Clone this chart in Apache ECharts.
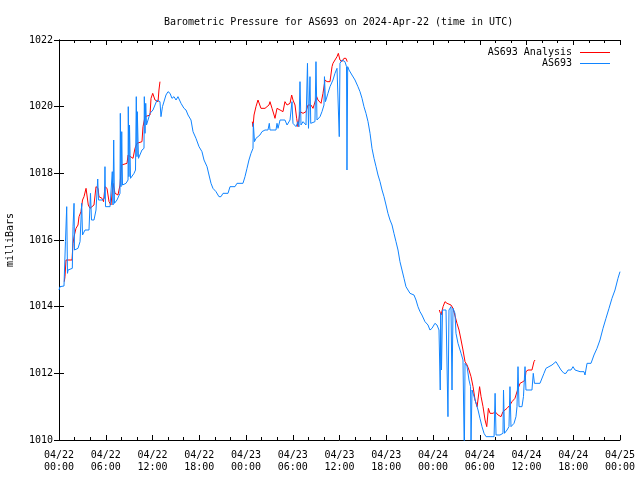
<!DOCTYPE html>
<html>
<head>
<meta charset="utf-8">
<script src="https://cdn.jsdelivr.net/npm/echarts@6/dist/echarts.min.js"></script>
<style>html,body{margin:0;padding:0;background:#fff}#c{width:640px;height:480px}</style>
</head>
<body>
<div id="c"></div>
<script>
// hours since 2024-04-22 00:00 UTC
const tickLabels = ["04/22\n00:00","04/22\n06:00","04/22\n12:00","04/22\n18:00","04/23\n00:00","04/23\n06:00","04/23\n12:00","04/23\n18:00","04/24\n00:00","04/24\n06:00","04/24\n12:00","04/24\n18:00","04/25\n00:00"];

const stationHours = [0.0,0.13,0.64,0.83,0.96,0.99,1.09,1.16,1.71,1.80,1.93,1.99,2.44,2.70,2.91,3.02,3.34,3.85,4.04,4.17,4.49,4.75,4.97,5.07,5.52,5.84,5.90,5.97,6.55,6.84,6.93,7.02,7.12,7.44,7.83,7.87,7.96,8.05,8.15,8.60,8.86,8.89,8.98,9.05,9.18,9.63,9.82,9.92,10.01,10.05,10.20,10.65,10.91,10.95,11.04,11.13,11.23,11.68,12.06,12.58,12.96,13.09,13.28,13.73,13.99,14.25,14.50,14.76,15.02,15.27,15.66,16.04,16.30,16.56,16.94,17.20,17.58,17.97,18.35,18.61,19.0,19.25,19.51,19.76,20.15,20.53,20.79,21.05,21.69,21.95,22.59,22.84,23.61,23.87,24.13,24.38,24.64,24.90,24.94,25.09,25.28,25.79,26.05,26.44,26.82,26.99,27.08,27.85,27.98,28.11,28.37,29.0,29.27,29.65,29.90,30.03,30.42,30.67,30.80,30.93,31.06,31.32,31.70,31.89,32.02,32.21,32.31,32.85,32.98,33.11,33.50,33.75,34.01,34.07,34.20,34.52,34.78,35.16,35.42,35.68,35.87,35.97,36.06,36.32,36.70,36.90,36.96,37.05,37.22,37.60,37.99,38.37,38.63,38.89,39.14,39.40,39.66,39.92,40.17,40.43,40.69,40.94,41.20,41.46,41.71,41.97,42.22,42.48,42.74,42.99,43.25,43.51,43.76,44.02,44.28,44.53,44.79,45.05,45.56,45.82,46.07,46.33,46.58,46.97,47.36,47.61,47.87,48.25,48.51,48.77,48.93,48.99,49.09,49.22,49.67,49.92,50.05,50.31,50.44,50.57,50.82,50.95,51.21,51.60,51.85,52.02,52.11,52.37,52.62,52.82,52.88,53.01,53.27,53.53,53.78,54.03,54.29,54.55,54.81,55.32,55.84,55.97,56.09,56.60,56.98,57.05,57.18,57.50,57.75,57.88,58.01,58.40,58.65,58.78,58.91,59.04,59.42,59.61,59.81,59.93,60.70,60.87,61.02,61.73,61.98,62.24,62.50,62.88,63.27,63.78,64.04,64.43,64.81,65.07,65.33,65.71,65.97,66.23,66.48,66.87,67.38,67.51,67.77,68.28,68.66,69.05,69.43,69.82,70.20,70.59,70.97,71.36,71.74,72.0];
const stationPressure = [1014.5,1014.6,1014.62,1015.95,1016.0,1017.0,1015.0,1015.1,1015.15,1016.4,1017.1,1015.7,1015.75,1015.95,1017.1,1016.15,1016.3,1016.3,1017.4,1016.6,1016.6,1016.9,1017.83,1017.2,1017.2,1017.25,1018.2,1017.0,1017.0,1018.05,1017.05,1019.0,1017.1,1017.2,1017.4,1019.8,1017.6,1019.25,1017.65,1017.7,1017.8,1020.0,1017.9,1019.45,1017.85,1018.0,1018.1,1020.3,1018.5,1019.85,1018.45,1018.7,1018.75,1020.3,1019.2,1020.1,1019.45,1019.8,1019.9,1020.2,1020.15,1019.7,1020.0,1020.35,1020.45,1020.4,1020.25,1020.3,1020.2,1020.3,1020.1,1019.95,1019.9,1019.75,1019.6,1019.25,1019.05,1018.8,1018.65,1018.4,1018.2,1017.95,1017.7,1017.55,1017.45,1017.3,1017.3,1017.4,1017.4,1017.6,1017.6,1017.7,1017.7,1017.9,1018.15,1018.4,1018.6,1018.75,1019.5,1018.95,1019.05,1019.15,1019.25,1019.3,1019.3,1019.5,1019.3,1019.3,1019.5,1019.35,1019.6,1019.6,1019.45,1019.6,1020.15,1019.5,1019.4,1019.55,1019.4,1020.75,1019.45,1019.55,1019.45,1021.3,1019.35,1020.9,1019.5,1019.55,1021.35,1019.6,1019.7,1019.85,1020.05,1020.9,1020.15,1020.4,1020.6,1020.8,1021.0,1021.15,1021.2,1019.1,1021.3,1021.4,1021.35,1021.2,1018.1,1021.2,1021.1,1020.95,1020.8,1020.6,1020.45,1020.25,1020.0,1019.8,1019.55,1019.2,1018.75,1018.45,1018.2,1017.95,1017.75,1017.5,1017.3,1017.05,1016.8,1016.6,1016.45,1016.2,1015.95,1015.7,1015.35,1015.1,1014.85,1014.6,1014.5,1014.4,1014.35,1014.2,1014.0,1013.85,1013.75,1013.55,1013.45,1013.3,1013.35,1013.5,1013.45,1013.3,1011.5,1013.8,1012.1,1013.9,1013.9,1010.7,1013.9,1014.0,1011.5,1013.95,1013.8,1013.2,1012.9,1012.6,1012.4,1009.5,1012.3,1012.2,1011.8,1011.6,1010.0,1011.5,1011.3,1011.1,1010.9,1010.65,1010.4,1010.2,1010.1,1010.1,1010.1,1011.4,1010.15,1010.15,1010.2,1011.5,1010.2,1010.3,1010.4,1011.6,1010.4,1010.5,1010.7,1011.0,1012.2,1011.0,1011.0,1011.3,1012.2,1011.5,1011.5,1012.0,1011.7,1011.7,1011.65,1012.0,1012.15,1012.2,1012.25,1012.35,1012.25,1012.1,1012.0,1012.0,1012.1,1012.1,1012.2,1012.1,1012.15,1012.05,1012.05,1011.95,1012.3,1012.3,1012.55,1012.75,1013.0,1013.35,1013.65,1013.95,1014.25,1014.5,1014.85,1015.05];

const analysisHours = [0.68,0.77,0.86,0.90,1.67,1.80,1.93,2.18,2.44,2.57,2.82,3.02,3.21,3.47,3.59,3.76,3.98,4.49,4.75,5.01,5.13,5.52,5.71,5.90,6.16,6.42,6.67,6.93,7.19,7.57,7.83,8.02,8.73,8.86,9.11,9.50,9.75,10.01,10.65,10.78,11.04,11.68,11.81,12.03,12.32,12.71,12.83,12.96,
  18.0,
  24.81,24.90,25.03,25.28,25.54,25.67,25.92,26.44,26.69,26.95,27.08,27.34,27.60,27.72,27.98,28.11,28.37,28.75,29.00,29.27,29.65,29.86,30.03,30.29,30.50,30.67,30.80,30.93,31.32,31.70,31.96,32.34,32.60,32.85,33.07,33.24,33.63,33.88,34.14,34.40,34.78,35.04,35.16,35.42,35.68,35.85,36.06,36.32,36.57,36.83,36.99,
  42.0,
  48.81,49.03,49.29,49.54,49.80,50.05,50.31,50.57,50.82,51.08,51.34,51.60,51.85,52.11,52.37,52.62,52.88,53.14,53.40,53.66,53.85,53.98,54.17,54.42,54.68,54.90,55.11,55.32,55.71,55.97,56.35,56.73,56.98,57.24,57.50,57.88,58.14,58.52,58.78,58.91,59.17,59.55,59.81,59.93,60.19,60.70,60.96,61.09];
const analysisPressure = [1014.75,1014.9,1015.25,1015.4,1015.4,1015.9,1016.1,1016.35,1016.45,1016.7,1016.85,1017.2,1017.3,1017.55,1017.5,1017.05,1016.95,1017.05,1017.6,1017.55,1017.3,1017.25,1017.15,1017.6,1017.55,1017.15,1017.05,1017.7,1017.4,1017.35,1017.65,1018.25,1018.3,1018.55,1018.5,1018.45,1018.75,1018.9,1018.95,1019.4,1019.7,1019.75,1020.25,1020.4,1020.2,1020.15,1020.5,1020.75,
  null,
  1019.55,1019.4,1019.75,1020.0,1020.2,1020.25,1019.95,1019.95,1020.0,1020.05,1020.15,1019.95,1019.75,1019.65,1019.95,1019.95,1019.9,1019.85,1020.15,1020.05,1020.1,1020.35,1020.2,1020.05,1019.65,1019.4,1019.35,1019.85,1019.8,1019.85,1020.05,1020.05,1019.95,1019.95,1020.3,1020.2,1020.1,1020.4,1020.8,1020.75,1020.75,1021.2,1021.3,1021.4,1021.5,1021.6,1021.4,1021.35,1021.45,1021.45,1021.35,
  null,
  1013.9,1013.75,1014.0,1014.15,1014.1,1014.05,1014.05,1013.95,1013.9,1013.5,1013.3,1013.0,1012.7,1012.35,1012.25,1012.1,1011.9,1011.6,1011.2,1011.0,1011.0,1011.6,1011.3,1011.0,1010.6,1010.4,1010.95,1010.8,1010.8,1010.85,1010.75,1010.7,1010.85,1010.9,1010.95,1011.05,1011.15,1011.25,1011.45,1011.5,1011.7,1011.75,1011.8,1012.05,1012.1,1012.1,1012.35,1012.4];

const FONT = "'DejaVu Sans Mono', 'Liberation Mono', monospace";
const zip = (a, b) => a.map((h, i) => [h, b[i] === null ? '-' : b[i]]);

const chart = echarts.init(document.getElementById('c'), null, {renderer: 'canvas'});
const xCommon = {
  type: 'value', min: 0, max: 72, interval: 6,
  axisLine: {show: true, lineStyle: {color: '#000', width: 1}},
  axisTick: {show: true, inside: true, length: 5, lineStyle: {color: '#000'}},
  minorTick: {show: true, splitNumber: 3, length: 3, lineStyle: {color: '#000'}},
  splitLine: {show: false}
};
const yCommon = {
  type: 'value', min: 1010, max: 1022, interval: 2,
  axisLine: {show: true, lineStyle: {color: '#000', width: 1}},
  axisTick: {show: true, inside: true, length: 5, lineStyle: {color: '#000'}},
  splitLine: {show: false}
};
chart.setOption({
  animation: false,
  backgroundColor: '#fff',
  title: {
    text: 'Barometric Pressure for AS693 on 2024-Apr-22 (time in UTC)',
    left: 159, top: 12,
    textStyle: {fontFamily: FONT, fontSize: 10, fontWeight: 'normal', color: '#000'}
  },
  legend: {
    orient: 'vertical', align: 'right', right: 25, top: 42, itemGap: 0,
    itemWidth: 30, itemHeight: 1, icon: 'rect',
    textStyle: {fontFamily: FONT, fontSize: 10, color: '#000', lineHeight: 11, padding: [0, 3, 0, 0]},
    data: ['AS693 Analysis', 'AS693']
  },
  grid: {left: 59, right: 20, top: 40, bottom: 40, containLabel: false, outerBoundsMode: 'none'},
  xAxis: [
    Object.assign({}, xCommon, {
      position: 'bottom',
      axisLabel: {show: true, fontFamily: FONT, fontSize: 10, color: '#000', margin: 9, lineHeight: 12,
        formatter: v => tickLabels[Math.round(v / 6)]}
    }),
    Object.assign({}, xCommon, {position: 'top', axisLabel: {show: false}})
  ],
  yAxis: [
    Object.assign({}, yCommon, {
      position: 'left',
      name: 'milliBars', nameLocation: 'middle', nameRotate: 90, nameGap: 44,
      nameTextStyle: {fontFamily: FONT, fontSize: 10, color: '#000'},
      axisLabel: {show: true, fontFamily: FONT, fontSize: 10, color: '#000', margin: 6,
        formatter: v => String(v)}
    }),
    Object.assign({}, yCommon, {position: 'right', axisLabel: {show: false}})
  ],
  series: [
    {
      name: 'AS693 Analysis', type: 'line', xAxisIndex: 0, yAxisIndex: 0,
      data: zip(analysisHours, analysisPressure),
      showSymbol: false, symbol: 'none', connectNulls: false, clip: true,
      color: '#ff0000', lineStyle: {color: '#ff0000', width: 1}
    },
    {
      name: 'AS693', type: 'line', xAxisIndex: 0, yAxisIndex: 0,
      data: zip(stationHours, stationPressure),
      showSymbol: false, symbol: 'none', clip: true,
      color: '#1084ff', lineStyle: {color: '#1084ff', width: 1}
    }
  ]
});
</script>
</body>
</html>
